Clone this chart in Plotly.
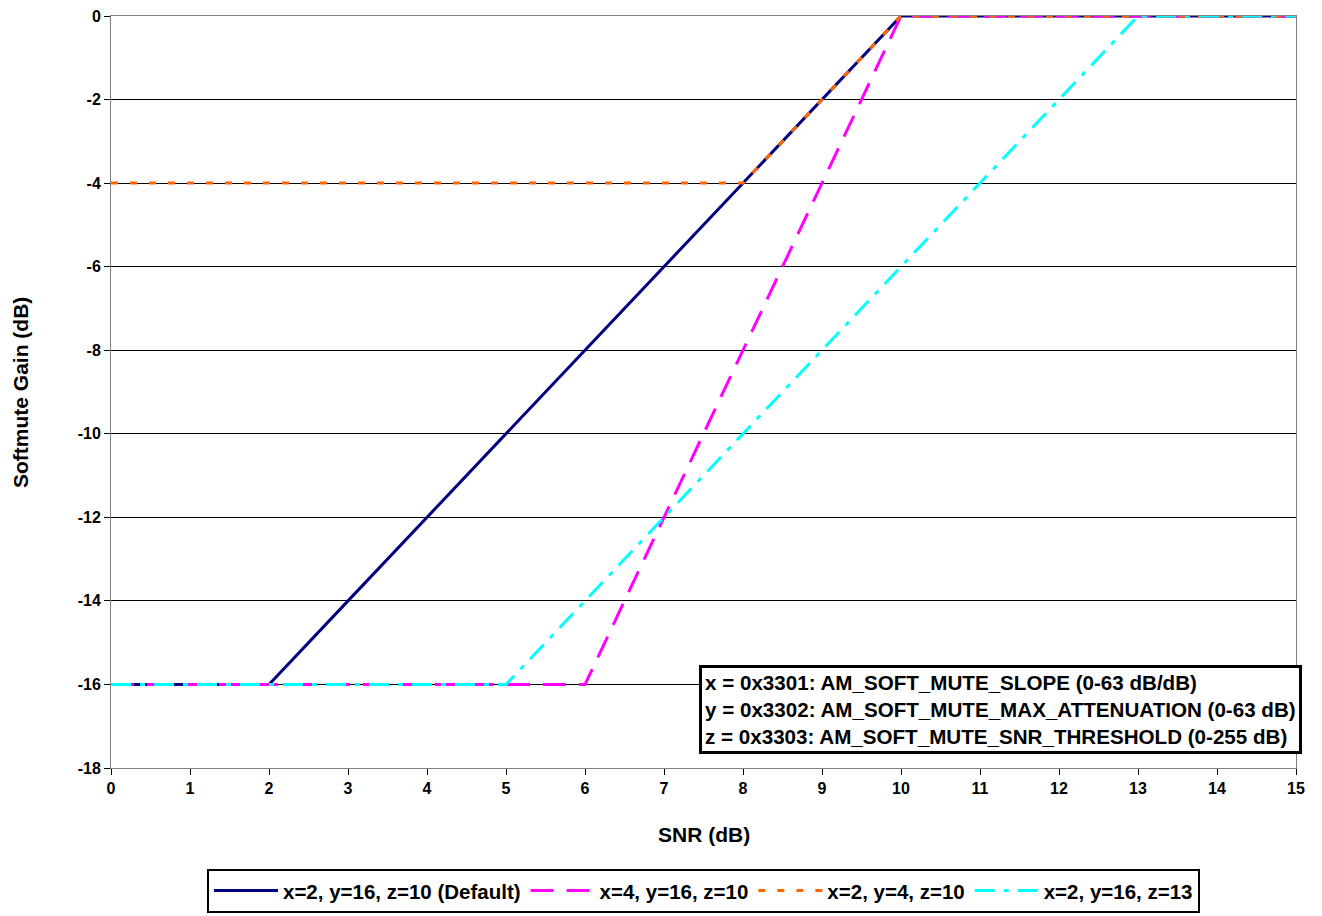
import plotly.graph_objects as go

snr = list(range(0, 16))
gain_default = [-16, -16, -16, -14, -12, -10, -8, -6, -4, -2, 0, 0, 0, 0, 0, 0]
gain_x4 = [-16, -16, -16, -16, -16, -16, -16, -12, -8, -4, 0, 0, 0, 0, 0, 0]
gain_y4 = [-4, -4, -4, -4, -4, -4, -4, -4, -4, -2, 0, 0, 0, 0, 0, 0]
gain_z13 = [-16, -16, -16, -16, -16, -16, -14, -12, -10, -8, -6, -4, -2, 0, 0, 0]

names = ["x=2, y=16, z=10 (Default)", "x=4, y=16, z=10", "x=2, y=4, z=10", "x=2, y=16, z=13"]
colors = ["#000080", "#FF00FF", "#FF6600", "#00FFFF"]
dashes = ["solid", "23px,13px", "7px,12px", "20px,9px,5px,9px"]
series = [gain_default, gain_x4, gain_y4, gain_z13]

y_ticks = list(range(-18, 1, 2))
x_ticks = list(range(0, 16))

fig = go.Figure()
for name, ys, c, d in zip(names, series, colors, dashes):
    fig.add_trace(go.Scatter(x=snr, y=ys, mode="lines", name="<b>" + name + "</b>",
                             line=dict(color=c, width=3, dash=d)))

font_family = "Liberation Sans, Arial, sans-serif"
# page body adds an 8px offset, so the figure is 8px smaller and margins shifted
W, H = 1314, 908
L, T = 103, 8
PW, PH = 1185, 752
fig.update_layout(
    width=W, height=H,
    margin=dict(l=L, r=W - L - PW, t=T, b=H - T - PH, autoexpand=False),
    paper_bgcolor="white", plot_bgcolor="white",
    font=dict(family=font_family, color="black"),
    showlegend=True,
    legend=dict(orientation="h", x=0.5, xanchor="center", y=-0.134, yanchor="top",
                bordercolor="black", borderwidth=2, bgcolor="white",
                font=dict(size=20.5, family=font_family, color="black"),
                itemwidth=64, tracegroupgap=0),
    xaxis=dict(range=[0, 15], tickvals=x_ticks, ticktext=[f"<b>{v}</b>" for v in x_ticks],
               ticks="outside", ticklen=6, tickcolor="black",
               showgrid=False, showline=True, linecolor="#808080", linewidth=1, mirror=True,
               zeroline=False, automargin=False, ticklabeloverflow="allow",
               tickfont=dict(size=16, family=font_family)),
    yaxis=dict(range=[-18, 0], tickvals=y_ticks, ticktext=[f"<b>{v}</b>" for v in y_ticks],
               ticks="outside", ticklen=6, tickcolor="black",
               showgrid=True, gridcolor="black", gridwidth=1,
               showline=True, linecolor="#808080", linewidth=1, mirror=True,
               zeroline=False, automargin=False, ticklabeloverflow="allow",
               tickfont=dict(size=16, family=font_family)),
)

fig.add_annotation(xref="paper", yref="paper", x=0.5, y=-0.089, xanchor="center", yanchor="middle",
                   text="<b>SNR (dB)</b>", showarrow=False, font=dict(size=21, family=font_family))
fig.add_annotation(xref="paper", yref="paper", x=-0.0768, y=0.5, xanchor="center", yanchor="middle",
                   text="<b>Softmute Gain (dB)</b>", textangle=-90, showarrow=False,
                   font=dict(size=21, family=font_family))

fig.add_annotation(
    xref="paper", yref="paper", x=1.005, y=0.018, xanchor="right", yanchor="bottom",
    align="left", showarrow=False,
    text="<b>x = 0x3301: AM_SOFT_MUTE_SLOPE (0-63 dB/dB)<br>"
         "y = 0x3302: AM_SOFT_MUTE_MAX_ATTENUATION (0-63 dB)<br>"
         "z = 0x3303: AM_SOFT_MUTE_SNR_THRESHOLD (0-255 dB)</b>",
    font=dict(size=20.6, family=font_family, color="black"),
    bordercolor="black", borderwidth=3, bgcolor="white", borderpad=3,
)

fig.write_html("out.html")
